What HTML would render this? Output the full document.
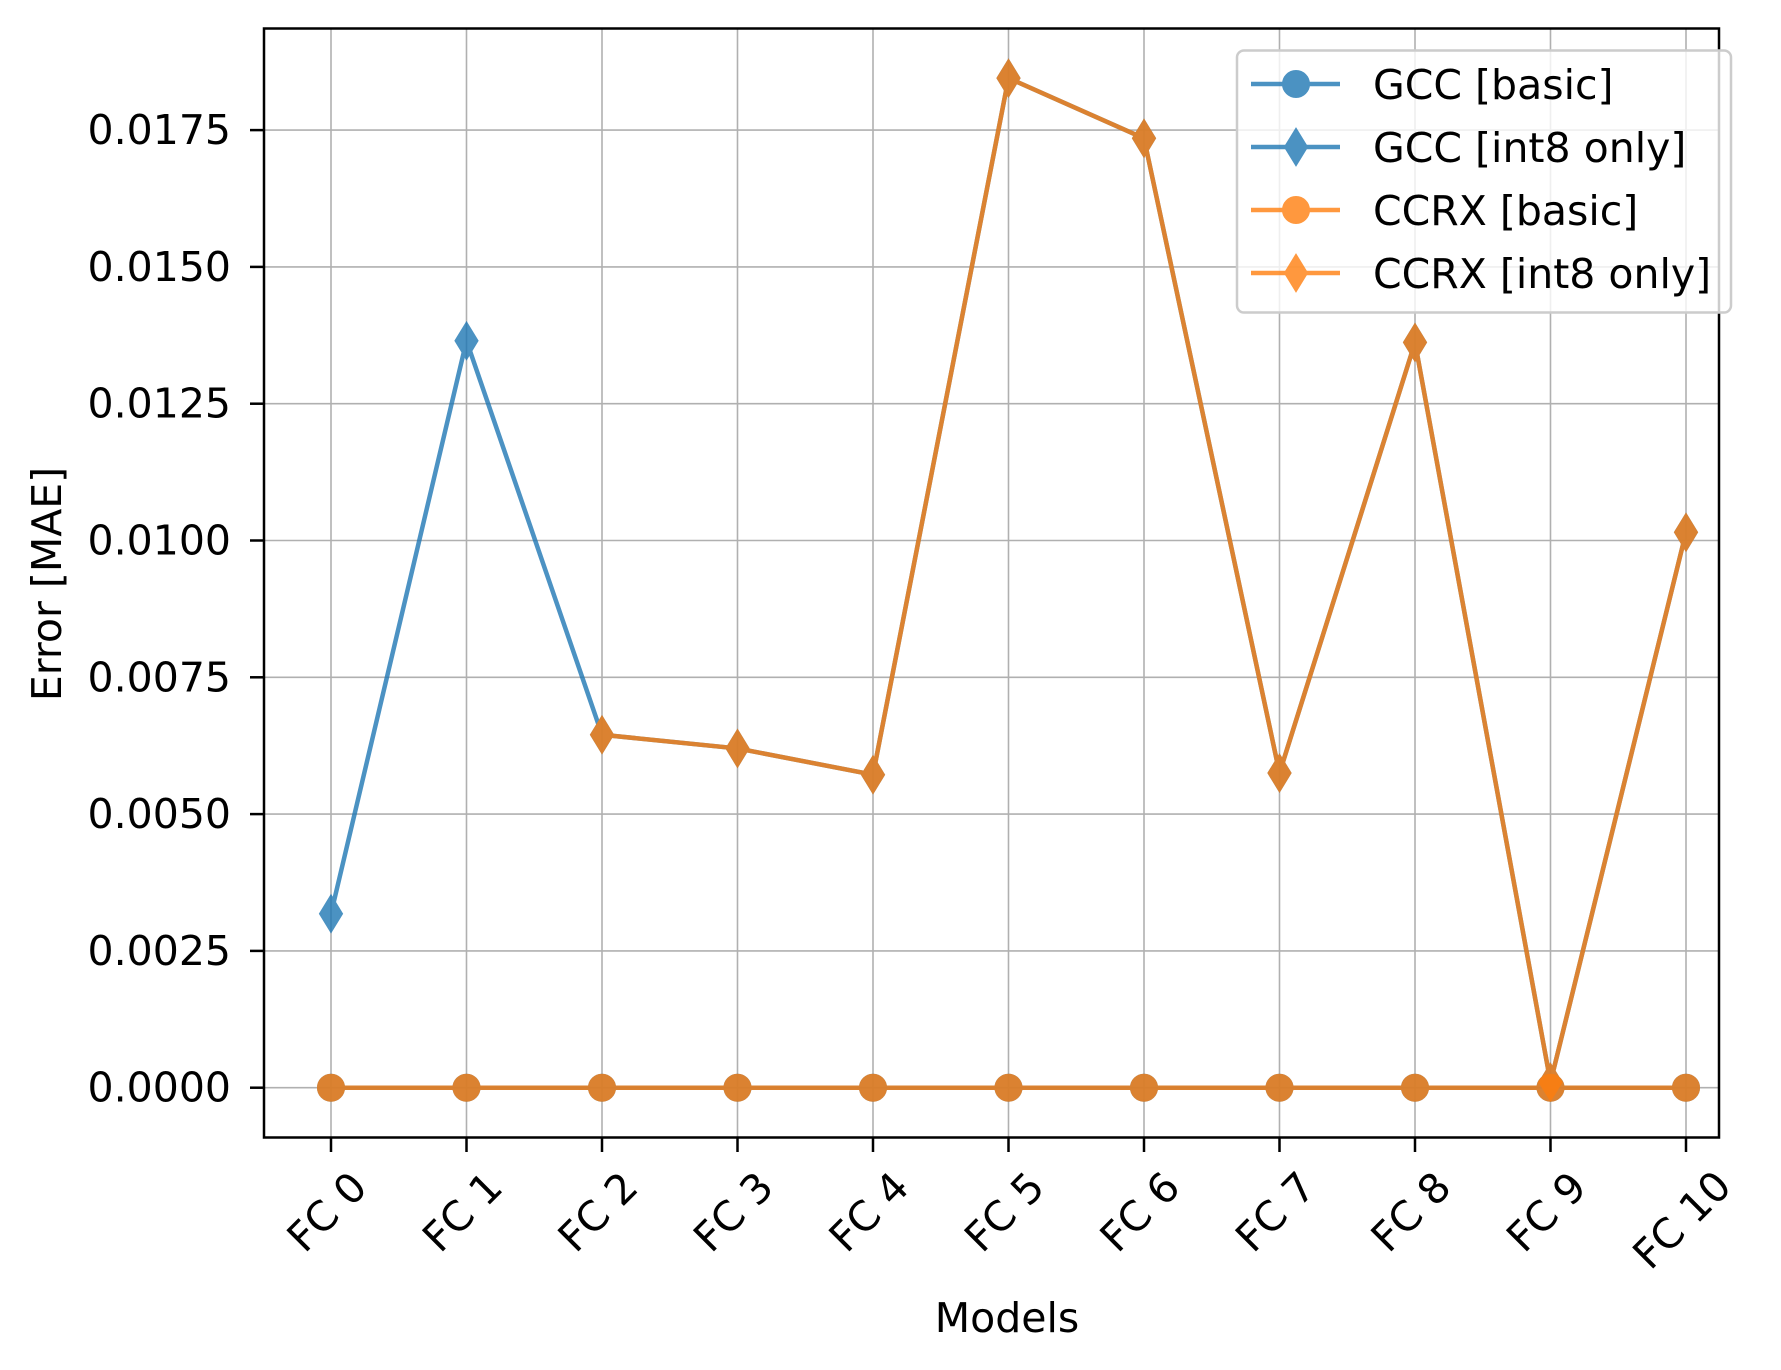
<!DOCTYPE html>
<html><head><meta charset="utf-8"><style>
html,body{margin:0;padding:0;background:#fff;}
svg{display:block;font-family:"DejaVu Sans","Liberation Sans",sans-serif;}
</style></head><body>
<svg id="chart" width="1781" height="1370" viewBox="0 0 1781 1370">
<rect x="0" y="0" width="1781" height="1370" fill="#fff"/>
<g id="grid"></g>
<g id="series"></g>
<rect x="264" y="28.5" width="1455" height="1109" fill="none" stroke="#000" stroke-width="2.5"/>
<g id="axes"></g>
<text x="1007" y="1332" font-size="41" text-anchor="middle">Models</text>
<text x="0" y="0" font-size="41" text-anchor="middle" transform="translate(61,584) rotate(-90)">Error [MAE]</text>
<g id="legend"></g>
</svg>
<script>
const categories = ["FC 0","FC 1","FC 2","FC 3","FC 4","FC 5","FC 6","FC 7","FC 8","FC 9","FC 10"];
const gccBasic = [0,0,0,0,0,0,0,0,0,0,0];
const gccInt8 = [0.00318,0.01365,0.00645,0.0062,0.00572,0.01845,0.01735,0.00575,0.01362,0.0001,0.01015];
const ccrxBasic = [0,0,0,0,0,0,0,0,0,0,0];
const ccrxInt8 = [null,null,0.00645,0.0062,0.00572,0.01845,0.01735,0.00575,0.01362,0.0001,0.01015];
const yTicks = [0,0.0025,0.005,0.0075,0.01,0.0125,0.015,0.0175];
const yTickLabels = ["0.0000","0.0025","0.0050","0.0075","0.0100","0.0125","0.0150","0.0175"];
const seriesNames = ["GCC [basic]","GCC [int8 only]","CCRX [basic]","CCRX [int8 only]"];

const NS="http://www.w3.org/2000/svg";
const X0=331, DX=135.5, Y0=1087.7, PY=136.8/0.0025;
function xs(i){return X0+i*DX;}
function ys(v){return Y0-v*PY;}
function mk(tag,attrs,parent){const e=document.createElementNS(NS,tag);for(const k in attrs)e.setAttribute(k,attrs[k]);parent.appendChild(e);return e;}
const grid=document.getElementById('grid'),axes=document.getElementById('axes'),ser=document.getElementById('series'),leg=document.getElementById('legend');

categories.forEach((c,i)=>{
  const x=xs(i);
  const g=mk('line',{x1:x,x2:x,y1:28.5,y2:1137.5,stroke:'#b0b0b0','stroke-width':1.6},grid);
  
  
  const t=mk('line',{x1:x,x2:x,y1:1137.5,y2:1152,stroke:'#000','stroke-width':2.5},axes);
  
  
  const lb=mk('text',{x:0,y:0,'font-size':41,'text-anchor':'middle','dominant-baseline':'central',transform:`translate(${x-4},${1212+(c.length>4?8:0)}) rotate(-45)`},axes);
  lb.textContent=c;
  
  
});
yTicks.forEach((v,i)=>{
  const y=ys(v);
  const g=mk('line',{x1:264,x2:1719,y1:y,y2:y,stroke:'#b0b0b0','stroke-width':1.6},grid);
  
  
  const t=mk('line',{x1:250,x2:264,y1:y,y2:y,stroke:'#000','stroke-width':2.5},axes);
  
  
  const lb=mk('text',{x:231,y:y+14,'font-size':41,'text-anchor':'end'},axes);
  lb.textContent=yTickLabels[i];
  
  
});

function diamond(cx,cy){return `${cx},${cy-18} ${cx+11},${cy} ${cx},${cy+18} ${cx-11},${cy}`;}
function drawSeries(vals,color,shape,name){
  const g=mk('g',{opacity:0.8},ser);
  
  
  let seg=[];const segs=[];
  vals.forEach((v,i)=>{if(v===null){if(seg.length)segs.push(seg);seg=[];}else seg.push(xs(i)+','+ys(v));});
  if(seg.length)segs.push(seg);
  segs.forEach(s=>{mk('polyline',{points:s.join(' '),fill:'none',stroke:color,'stroke-width':4.5,'stroke-linejoin':'round'},g);});
  vals.forEach((v,i)=>{
    if(v===null)return;
    let m;
    if(shape==='circle')m=mk('circle',{cx:xs(i),cy:ys(v),r:13,fill:color,stroke:color,'stroke-width':2},g);
    else m=mk('polygon',{points:diamond(xs(i),ys(v)),fill:color,stroke:color,'stroke-width':2},g);
    
    
  });
}
drawSeries(gccBasic,'#1f77b4','circle','series-gcc-basic');
drawSeries(gccInt8,'#1f77b4','diamond','series-gcc-int8');
drawSeries(ccrxBasic,'#ff7f0e','circle','series-ccrx-basic');
drawSeries(ccrxInt8,'#ff7f0e','diamond','series-ccrx-int8');

const lbox=mk('rect',{x:1237,y:50.5,width:494,height:262,rx:7,fill:'#fff','fill-opacity':0.8,stroke:'#cccccc','stroke-width':2.5},leg);


const colors=['#1f77b4','#1f77b4','#ff7f0e','#ff7f0e'],shapes=['circle','diamond','circle','diamond'];
seriesNames.forEach((n,i)=>{
  const y=84+i*63;
  const e=mk('g',{},leg);
  
  
  const sg=mk('g',{opacity:0.8},e);
  mk('line',{x1:1251,x2:1340,y1:y,y2:y,stroke:colors[i],'stroke-width':4.5},sg);
  if(shapes[i]==='circle')mk('circle',{cx:1296,cy:y,r:13,fill:colors[i],stroke:colors[i],'stroke-width':2},sg);
  else mk('polygon',{points:diamond(1296,y),fill:colors[i],stroke:colors[i],'stroke-width':2},sg);
  const t=mk('text',{x:1373,y:y+15,'font-size':41},e);
  t.textContent=n;
});
</script>
</body></html>
